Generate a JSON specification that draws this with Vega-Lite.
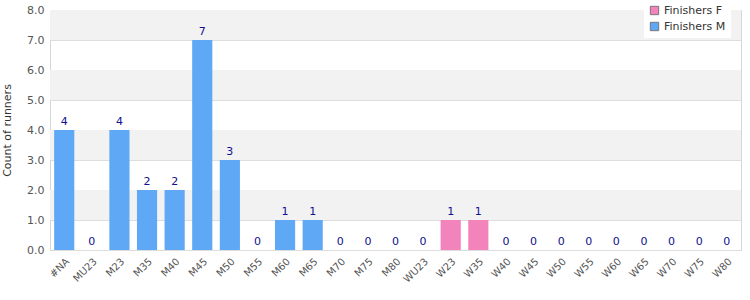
{
  "$schema": "https://vega.github.io/schema/vega-lite/v6.json",
  "width": 691,
  "height": 240,
  "autosize": {"type": "none"},
  "padding": {"left": 50, "top": 10, "right": 9, "bottom": 50},
  "background": "white",
  "config": {
    "view": {"stroke": "#d6d6d6", "strokeWidth": 1},
    "font": "DejaVu Sans"
  },
  "datasets": {
    "runners": [
      {"category": "#NA", "count": 4, "series": "Finishers M"},
      {"category": "MU23", "count": 0, "series": "Finishers M"},
      {"category": "M23", "count": 4, "series": "Finishers M"},
      {"category": "M35", "count": 2, "series": "Finishers M"},
      {"category": "M40", "count": 2, "series": "Finishers M"},
      {"category": "M45", "count": 7, "series": "Finishers M"},
      {"category": "M50", "count": 3, "series": "Finishers M"},
      {"category": "M55", "count": 0, "series": "Finishers M"},
      {"category": "M60", "count": 1, "series": "Finishers M"},
      {"category": "M65", "count": 1, "series": "Finishers M"},
      {"category": "M70", "count": 0, "series": "Finishers M"},
      {"category": "M75", "count": 0, "series": "Finishers M"},
      {"category": "M80", "count": 0, "series": "Finishers M"},
      {"category": "WU23", "count": 0, "series": "Finishers F"},
      {"category": "W23", "count": 1, "series": "Finishers F"},
      {"category": "W35", "count": 1, "series": "Finishers F"},
      {"category": "W40", "count": 0, "series": "Finishers F"},
      {"category": "W45", "count": 0, "series": "Finishers F"},
      {"category": "W50", "count": 0, "series": "Finishers F"},
      {"category": "W55", "count": 0, "series": "Finishers F"},
      {"category": "W60", "count": 0, "series": "Finishers F"},
      {"category": "W65", "count": 0, "series": "Finishers F"},
      {"category": "W70", "count": 0, "series": "Finishers F"},
      {"category": "W75", "count": 0, "series": "Finishers F"},
      {"category": "W80", "count": 0, "series": "Finishers F"}
    ],
    "bands": [
      {"lo": 1, "hi": 2},
      {"lo": 3, "hi": 4},
      {"lo": 5, "hi": 6},
      {"lo": 7, "hi": 8}
    ]
  },
  "layer": [
    {
      "data": {"name": "bands"},
      "mark": {"type": "rect", "color": "#f2f2f2"},
      "encoding": {
        "y": {
          "field": "lo", "type": "quantitative", "scale": {"domain": [0, 8]},
          "axis": {
            "title": "Count of runners", "titleFontSize": 11, "titleFontWeight": "normal", "titleColor": "#333333",
            "titlePadding": 14, "tickCount": 8,
            "format": ".1f", "labelOverlap": false,
            "labelFontSize": 11, "labelColor": "#555555", "ticks": false, "domain": false,
            "gridColor": "#dddddd", "labelPadding": 6
          }
        },
        "y2": {"field": "hi"}
      }
    },
    {
      "data": {"name": "runners"},
      "mark": {"type": "bar"},
      "encoding": {
        "x": {
          "field": "category", "type": "nominal", "sort": null,
          "scale": {"paddingInner": 0.27, "paddingOuter": 0.15},
          "axis": {
            "title": null, "labelAngle": -45, "labelFontSize": 10, "labelColor": "#555555",
            "ticks": false, "domain": false, "labelPadding": 6, "labelOverlap": false
          }
        },
        "y": {"field": "count", "type": "quantitative"},
        "color": {
          "field": "series", "type": "nominal",
          "scale": {"domain": ["Finishers F", "Finishers M"], "range": ["#f283bb", "#5fa8f5"]},
          "legend": {
            "title": null, "orient": "none", "legendX": 594, "legendY": -10,
            "symbolType": "square", "symbolStrokeColor": "#777777", "symbolStrokeWidth": 1,
            "symbolSize": 70, "labelFontSize": 11, "labelColor": "#333333",
            "fillColor": "white", "padding": 5, "rowPadding": 3
          }
        }
      }
    },
    {
      "data": {"name": "runners"},
      "mark": {"type": "text", "color": "#10108f", "fontSize": 11, "baseline": "bottom", "dy": -3},
      "encoding": {
        "x": {"field": "category", "type": "nominal", "sort": null},
        "y": {"field": "count", "type": "quantitative"},
        "text": {"field": "count", "type": "quantitative"}
      }
    }
  ]
}
